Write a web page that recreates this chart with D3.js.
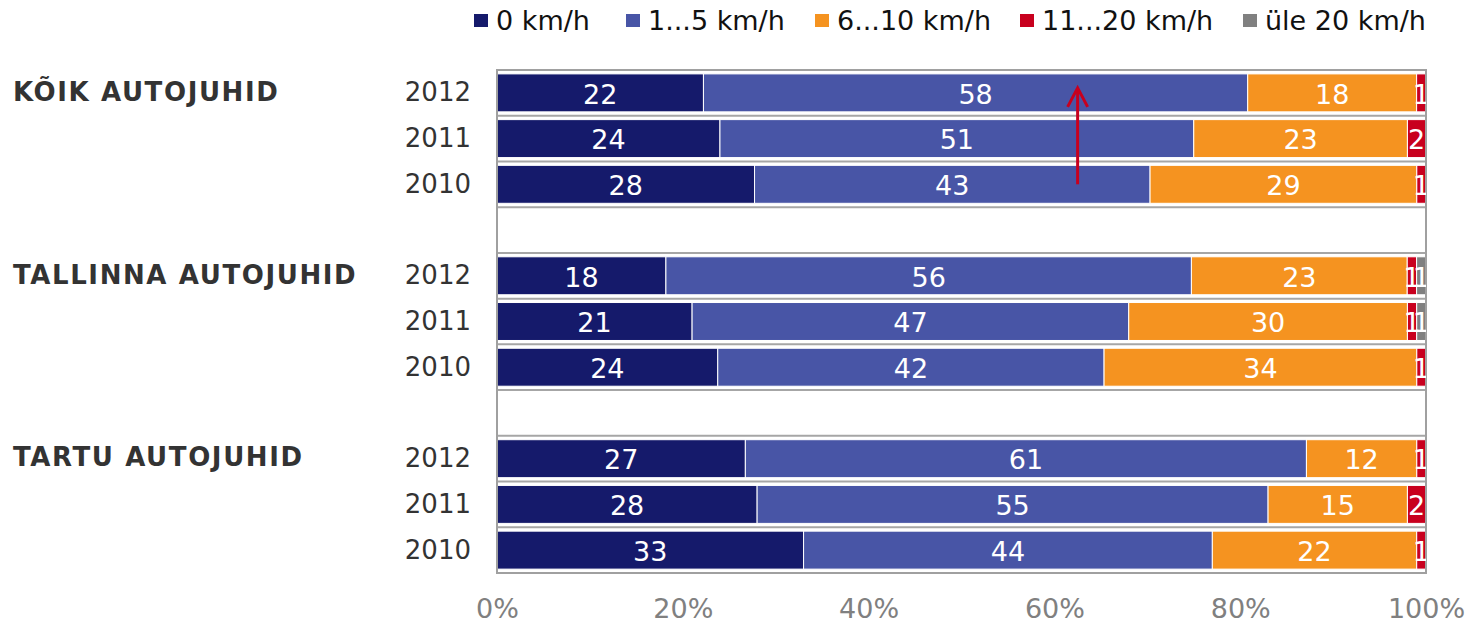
<!DOCTYPE html>
<html><head><meta charset="utf-8">
<script src="https://cdn.jsdelivr.net/npm/d3@7"></script>
<style>body{margin:0;background:#fff}svg{display:block;font-family:"DejaVu Sans",Verdana,sans-serif}</style>
</head><body><svg id="c" width="1468" height="624"></svg>
<script>
const groups = ["KÕIK AUTOJUHID", "TALLINNA AUTOJUHID", "TARTU AUTOJUHID"];
const years = ["2012", "2011", "2010"];
const seriesNames = ["0 km/h", "1...5 km/h", "6...10 km/h", "11...20 km/h", "üle 20 km/h"];
const seriesColors = ["#151a6b", "#4855a6", "#f59320", "#c8001e", "#808080"];
// values per row: KÕIK 2012,2011,2010, TALLINNA 2012,2011,2010, TARTU 2012,2011,2010
const s0 = [22, 24, 28, 18, 21, 24, 27, 28, 33];
const s1 = [58, 51, 43, 56, 47, 42, 61, 55, 44];
const s2 = [18, 23, 29, 23, 30, 34, 12, 15, 22];
const s3 = [1, 2, 1, 1, 1, 1, 1, 2, 1];
const s4 = [0, 0, 0, 1, 1, 0, 0, 0, 0];
const xTicks = [0, 0.2, 0.4, 0.6, 0.8, 1];
const arrowX = 0.625;

const seriesVals = [s0, s1, s2, s3, s4];
const svg = d3.select("#c");
const plot = {left: 497, right: 1426, top: 70, bottom: 573};

const rowKeys = [];
groups.forEach((g, gi) => {
  years.forEach(y => rowKeys.push(g + "|" + y));
  if (gi < groups.length - 1) rowKeys.push("gap" + gi);
});
const rows = [];
groups.forEach((g, gi) => years.forEach((y, yi) => {
  const i = gi * years.length + yi;
  const r = {key: g + "|" + y, group: g, year: y};
  seriesNames.forEach((s, si) => r[s] = seriesVals[si][i]);
  rows.push(r);
}));

const x = d3.scaleLinear().domain([0, 1]).range([plot.left, plot.right]);
const y = d3.scaleBand().domain(rowKeys).range([plot.top, plot.bottom]).padding(0);
const step = y.step();
const barInset = step * 0.085, barH = step * 0.83;
const color = d3.scaleOrdinal().domain(seriesNames).range(seriesColors);

const stacked = d3.stack().keys(seriesNames).offset(d3.stackOffsetExpand)(rows);

svg.append("defs").append("clipPath").attr("id", "pc")
  .append("rect").attr("x", plot.left).attr("y", plot.top)
  .attr("width", plot.right - plot.left).attr("height", plot.bottom - plot.top);

// horizontal gridlines at row boundaries
const bounds = rowKeys.slice(1).map(k => y(k));
svg.append("g").selectAll("line").data(bounds).join("line")
  .attr("x1", plot.left).attr("x2", plot.right)
  .attr("y1", d => d).attr("y2", d => d)
  .attr("stroke", "#a6a6a6").attr("stroke-width", 2);

// bars
const gBars = svg.append("g");
stacked.forEach(layer => {
  gBars.append("g").selectAll("rect").data(layer.filter(d => d.data[layer.key] > 0)).join("rect")
    .attr("x", d => x(d[0])).attr("width", d => x(d[1]) - x(d[0]))
    .attr("y", d => y(d.data.key) + barInset).attr("height", barH)
    .attr("fill", color(layer.key))
    .attr("stroke", "#fff").attr("stroke-width", 1);
});

// plot border
svg.append("rect").attr("x", plot.left).attr("y", plot.top)
  .attr("width", plot.right - plot.left).attr("height", plot.bottom - plot.top)
  .attr("fill", "none").attr("stroke", "#a0a0a0").attr("stroke-width", 2);

// bar labels
const gLab = svg.append("g").attr("clip-path", "url(#pc)");
stacked.forEach(layer => {
  gLab.append("g").selectAll("text").data(layer.filter(d => d.data[layer.key] > 0)).join("text")
    .attr("x", d => (x(d[0]) + x(d[1])) / 2)
    .attr("y", d => y(d.data.key) + step / 2)
    .attr("dy", "0.4em")
    .attr("text-anchor", "middle")
    .attr("fill", "#fff").attr("font-size", 27)
    .text(d => d.data[layer.key]);
});

// year labels
svg.append("g").selectAll("text").data(rows).join("text")
  .attr("x", 471).attr("y", d => y(d.key) + step / 2)
  .attr("dy", "0.33em").attr("text-anchor", "end")
  .attr("fill", "#333").attr("font-size", 26)
  .text(d => d.year);

// group labels
svg.append("g").selectAll("text").data(groups).join("text")
  .attr("x", 13).attr("y", g => y(g + "|" + years[0]) + step / 2)
  .attr("dy", "0.3em")
  .attr("fill", "#333").attr("font-size", 26).attr("font-weight", "bold")
  .attr("letter-spacing", 1.6)
  .text(g => g);

// x axis
const ax = svg.append("g").attr("transform", `translate(0,${plot.bottom})`)
  .call(d3.axisBottom(x).tickValues(xTicks).tickFormat(d3.format(".0%")).tickSize(0).tickPadding(26));
ax.select(".domain").remove();
ax.selectAll("text").attr("font-size", 27).attr("fill", "#808080")
  .attr("font-family", "'DejaVu Sans',Verdana,sans-serif");

// arrow annotation
const ax0 = x(arrowX);
const yTip = y(rowKeys[0]) + step / 2 - 5, yBot = y(rowKeys[2]) + step / 2;
svg.append("line").attr("x1", ax0).attr("x2", ax0).attr("y1", yBot).attr("y2", yTip + 1)
  .attr("stroke", "#c8001e").attr("stroke-width", 3);
svg.append("path").attr("d", `M${ax0 - 10},${yTip + 19}L${ax0},${yTip}L${ax0 + 10},${yTip + 19}`)
  .attr("fill", "none").attr("stroke", "#c8001e").attr("stroke-width", 3);

// legend
const legX = [474, 626, 815, 1020, 1243];
const leg = svg.append("g").selectAll("g").data(seriesNames).join("g")
  .attr("transform", (d, i) => `translate(${legX[i]},0)`);
leg.append("rect").attr("x", 0).attr("y", 14).attr("width", 14).attr("height", 13)
  .attr("fill", d => color(d));
leg.append("text").attr("x", 22).attr("y", 30).attr("font-size", 27).attr("fill", "#111")
  .text(d => d);
</script></body></html>
